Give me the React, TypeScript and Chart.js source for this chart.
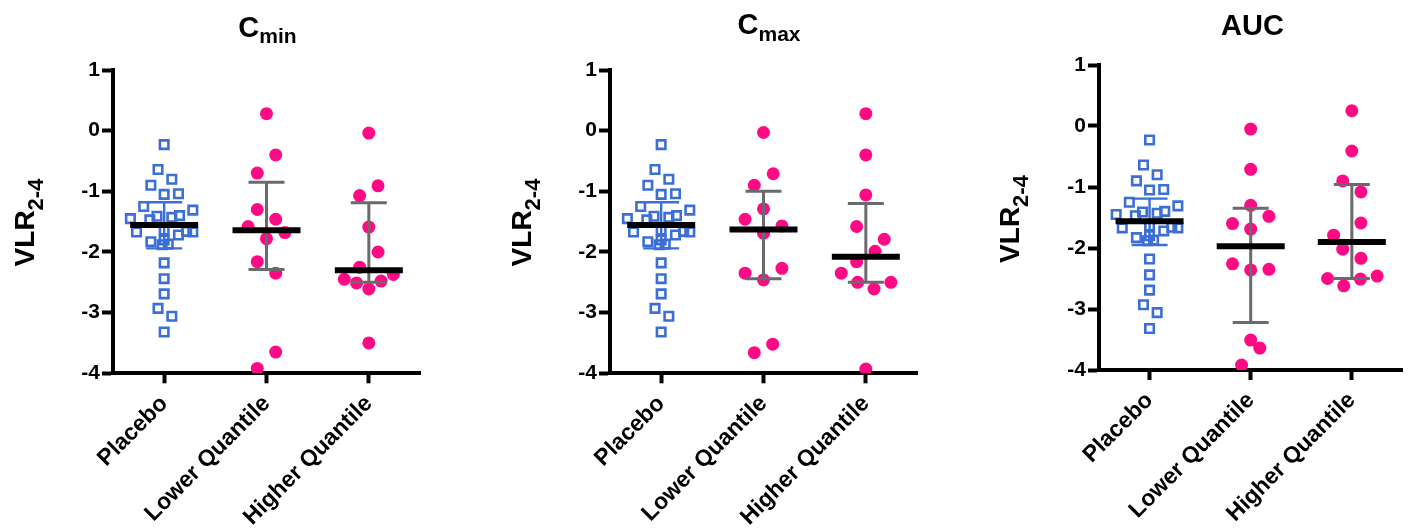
import React, { useEffect, useRef } from 'react';
import Chart from 'chart.js/auto';

// ---------- data ----------
const categories = ['Placebo', 'Lower Quantile', 'Higher Quantile'];
const yMin = -4;
const yMax = 1;

// Placebo (same group in all three panels)
const placeboVLR = [-0.23, -0.64, -0.80, -0.90, -1.05, -1.04, -1.25, -1.31, -1.45, -1.41, -1.43, -1.40, -1.47, -1.67, -1.64, -1.72, -1.66, -1.67, -1.83, -1.80, -1.88, -1.87, -2.18, -2.44, -2.69, -2.93, -3.06, -3.32];
const placeboJitter = [0, -0.06, 0.075, -0.13, 0, 0.14, -0.2, 0.28, -0.33, -0.07, 0.075, 0.15, -0.14, -0.27, 0, 0.14, 0.22, 0.28, -0.13, 0, -0.02, 0.04, 0, 0, 0, -0.06, 0.075, 0];

// Cmin
const cminLowVLR = [0.28, -0.40, -0.70, -1.30, -1.46, -1.58, -1.68, -1.78, -2.16, -2.35, -3.65, -3.92];
const cminLowJitter = [0, 0.09, -0.09, -0.09, 0.09, -0.18, 0.18, 0, -0.09, 0.09, 0.09, -0.09];
const cminHighVLR = [-0.04, -0.91, -1.07, -1.59, -2.00, -2.25, -2.37, -2.45, -2.48, -2.51, -2.61, -3.50];
const cminHighJitter = [0, 0.09, -0.09, 0, 0.09, -0.09, 0.24, -0.24, 0.12, -0.12, 0, 0];
const cminMedian = [-1.555, -1.64, -2.30];
const cminUpper = [-1.18, -0.85, -1.19];
const cminLower = [-1.94, -2.29, -2.50];

// Cmax
const cmaxLowVLR = [-0.03, -0.71, -0.90, -1.29, -1.46, -1.57, -1.69, -2.27, -2.35, -2.46, -3.52, -3.66];
const cmaxLowJitter = [0, 0.095, -0.09, 0, -0.18, 0.18, 0, 0.18, -0.18, 0, 0.09, -0.09];
const cmaxHighVLR = [0.28, -0.40, -1.06, -1.58, -1.79, -1.99, -2.16, -2.35, -2.50, -2.50, -2.61, -3.93];
const cmaxHighJitter = [0, 0, 0, -0.09, 0.18, 0.09, -0.09, -0.24, -0.08, 0.245, 0.08, 0];
const cmaxMedian = [-1.555, -1.63, -2.08];
const cmaxUpper = [-1.18, -1.00, -1.20];
const cmaxLower = [-1.94, -2.44, -2.50];

// AUC
const aucLowVLR = [-0.05, -0.71, -1.30, -1.48, -1.60, -1.69, -2.26, -2.36, -2.35, -3.51, -3.64, -3.92];
const aucLowJitter = [0, 0, 0, 0.18, -0.18, 0, -0.18, 0, 0.18, 0, 0.09, -0.09];
const aucHighVLR = [0.25, -0.41, -0.90, -1.08, -1.59, -1.79, -2.02, -2.17, -2.50, -2.62, -2.51, -2.46];
const aucHighJitter = [0, 0, -0.09, 0.09, 0.09, -0.18, -0.09, 0.09, -0.24, -0.08, 0.085, 0.25];
const aucMedian = [-1.56, -1.97, -1.90];
const aucUpper = [-1.19, -1.35, -0.96];
const aucLower = [-1.95, -3.22, -2.50];

// ---------- styles ----------
const FONT = "'Liberation Sans', Arial, Helvetica, sans-serif";
const BLUE = '#3b6fd6';
const PINK = '#ff0a84';
const GRAY = '#6a6a6a';

type Panel = {
  title: string;
  sub: string;
  canvasLeft: number;
  canvasWidth: number;
  plotLeft: number;
  plotRight: number;
  plotTop: number;
  plotBottom: number;
  titleCenter: number;
  titleBaseline: number;
  ylabelX: number;
  ylabelY: number;
  low: number[];
  lowJ: number[];
  high: number[];
  highJ: number[];
  median: number[];
  upper: number[];
  lower: number[];
};

const panels: Panel[] = [
  {
    title: 'C', sub: 'min', canvasLeft: 0, canvasWidth: 470,
    plotLeft: 113, plotRight: 420, plotTop: 70, plotBottom: 373.3,
    titleCenter: 267.5, titleBaseline: 36.5, ylabelX: 34, ylabelY: 222.5,
    low: cminLowVLR, lowJ: cminLowJitter, high: cminHighVLR, highJ: cminHighJitter,
    median: cminMedian, upper: cminUpper, lower: cminLower,
  },
  {
    title: 'C', sub: 'max', canvasLeft: 480, canvasWidth: 470,
    plotLeft: 610, plotRight: 917, plotTop: 70, plotBottom: 373.3,
    titleCenter: 769, titleBaseline: 34, ylabelX: 531, ylabelY: 222.5,
    low: cmaxLowVLR, lowJ: cmaxLowJitter, high: cmaxHighVLR, highJ: cmaxHighJitter,
    median: cmaxMedian, upper: cmaxUpper, lower: cmaxLower,
  },
  {
    title: 'AUC', sub: '', canvasLeft: 960, canvasWidth: 451,
    plotLeft: 1099, plotRight: 1405, plotTop: 65, plotBottom: 370,
    titleCenter: 1252.5, titleBaseline: 35, ylabelX: 1019, ylabelY: 219,
    low: aucLowVLR, lowJ: aucLowJitter, high: aucHighVLR, highJ: aucHighJitter,
    median: aucMedian, upper: aucUpper, lower: aucLower,
  },
];

const H = 529;

function PanelChart({ p }: { p: Panel }) {
  const ref = useRef<HTMLCanvasElement | null>(null);
  useEffect(() => {
    if (!ref.current) return;
    const yW = p.plotLeft - p.canvasLeft;
    const padRight = p.canvasLeft + p.canvasWidth - p.plotRight;
    const xH = H - p.plotBottom;

    const overlay = {
      id: 'overlay' + p.sub + p.title,
      afterDatasetsDraw(chart: any) {
        const ctx = chart.ctx;
        const xs = chart.scales.x;
        const ys = chart.scales.y;
        ctx.save();
        for (let i = 0; i < categories.length; i++) {
          const cx = xs.getPixelForValue(i);
          const yt = ys.getPixelForValue(p.upper[i]);
          const yb = ys.getPixelForValue(p.lower[i]);
          const ym = ys.getPixelForValue(p.median[i]);
          ctx.strokeStyle = i === 0 ? BLUE : GRAY;
          ctx.lineWidth = i === 0 ? 2.4 : 3;
          ctx.lineCap = 'butt';
          ctx.beginPath();
          ctx.moveTo(cx, yt);
          ctx.lineTo(cx, yb);
          ctx.moveTo(cx - 18, yt);
          ctx.lineTo(cx + 18, yt);
          ctx.moveTo(cx - 18, yb);
          ctx.lineTo(cx + 18, yb);
          ctx.stroke();
          ctx.strokeStyle = '#000';
          ctx.lineWidth = 6;
          ctx.beginPath();
          ctx.moveTo(cx - 34, ym);
          ctx.lineTo(cx + 34, ym);
          ctx.stroke();
        }
        ctx.restore();
      },
      afterDraw(chart: any) {
        const ctx = chart.ctx;
        ctx.save();
        ctx.fillStyle = '#000';
        ctx.textBaseline = 'alphabetic';
        ctx.textAlign = 'left';
        // title
        ctx.font = `bold 29px ${FONT}`;
        const w1 = ctx.measureText(p.title).width;
        ctx.font = `bold 21px ${FONT}`;
        const w2 = p.sub ? ctx.measureText(p.sub).width : 0;
        const tx = p.titleCenter - p.canvasLeft - (w1 + w2) / 2;
        ctx.font = `bold 29px ${FONT}`;
        ctx.fillText(p.title, tx, p.titleBaseline);
        if (p.sub) {
          ctx.font = `bold 21px ${FONT}`;
          ctx.fillText(p.sub, tx + w1, p.titleBaseline + 6.5);
        }
        // y label
        ctx.translate(p.ylabelX - p.canvasLeft, p.ylabelY);
        ctx.rotate(-Math.PI / 2);
        ctx.font = `bold 28px ${FONT}`;
        const v1 = ctx.measureText('VLR').width;
        ctx.font = `bold 22px ${FONT}`;
        const v2 = ctx.measureText('2-4').width;
        const sx = -(v1 + v2) / 2;
        ctx.font = `bold 28px ${FONT}`;
        ctx.fillText('VLR', sx, 0);
        ctx.font = `bold 22px ${FONT}`;
        ctx.fillText('2-4', sx + v1, 9);
        ctx.restore();
      },
    };

    const yFont = { family: FONT, size: 21, weight: 'bold' as const };
    const xFont = { family: FONT, size: 23, weight: 'bold' as const };

    const chart = new Chart(ref.current, {
      type: 'scatter',
      data: {
        datasets: [
          {
            label: categories[0],
            data: placeboVLR.map((y, i) => ({ x: 0 + placeboJitter[i], y })),
            pointStyle: 'rect',
            pointRadius: 6,
            borderColor: BLUE,
            borderWidth: 2.6,
            backgroundColor: 'rgba(255,255,255,0)',
          },
          {
            label: categories[1],
            data: p.low.map((y, i) => ({ x: 1 + p.lowJ[i], y })),
            pointStyle: 'circle',
            pointRadius: 6.5,
            borderWidth: 0,
            backgroundColor: PINK,
          },
          {
            label: categories[2],
            data: p.high.map((y, i) => ({ x: 2 + p.highJ[i], y })),
            pointStyle: 'circle',
            pointRadius: 6.5,
            borderWidth: 0,
            backgroundColor: PINK,
          },
        ],
      },
      options: {
        responsive: false,
        animation: false,
        events: [],
        layout: { padding: { left: 0, right: padRight, top: p.plotTop, bottom: 0 } },
        plugins: { legend: { display: false }, tooltip: { enabled: false }, title: { display: false } },
        scales: {
          x: {
            type: 'linear',
            min: -0.5,
            max: 2.5,
            afterBuildTicks: (s: any) => {
              s.ticks = categories.map((_, i) => ({ value: i }));
            },
            afterFit: (s: any) => {
              s.height = xH;
            },
            ticks: {
              autoSkip: false,
              minRotation: 45,
              maxRotation: 45,
              padding: 7,
              color: '#000',
              font: xFont,
              callback: (v: any) => categories[Math.round(Number(v))] ?? '',
            },
            grid: {
              display: true,
              drawOnChartArea: false,
              drawTicks: true,
              tickLength: 10,
              tickWidth: 4,
              tickColor: '#000',
            },
            border: { display: true, color: '#000', width: 4 },
          },
          y: {
            type: 'linear',
            min: yMin,
            max: yMax,
            afterFit: (s: any) => {
              s.width = yW;
            },
            ticks: { stepSize: 1, padding: 2, color: '#000', font: yFont },
            grid: {
              display: true,
              drawOnChartArea: false,
              drawTicks: true,
              tickLength: 11,
              tickWidth: 4,
              tickColor: '#000',
            },
            border: { display: true, color: '#000', width: 4 },
          },
        },
      },
      plugins: [overlay],
    } as any);
    return () => chart.destroy();
  }, [p]);

  return (
    <canvas
      ref={ref}
      width={p.canvasWidth}
      height={H}
      style={{ position: 'absolute', left: p.canvasLeft, top: 0, width: p.canvasWidth, height: H }}
    />
  );
}

export default function App() {
  return (
    <div style={{ position: 'absolute', left: 0, top: 0, width: 1411, height: H, background: '#fff', overflow: 'hidden' }}>
      {panels.map((p, i) => (
        <PanelChart key={i} p={p} />
      ))}
    </div>
  );
}
